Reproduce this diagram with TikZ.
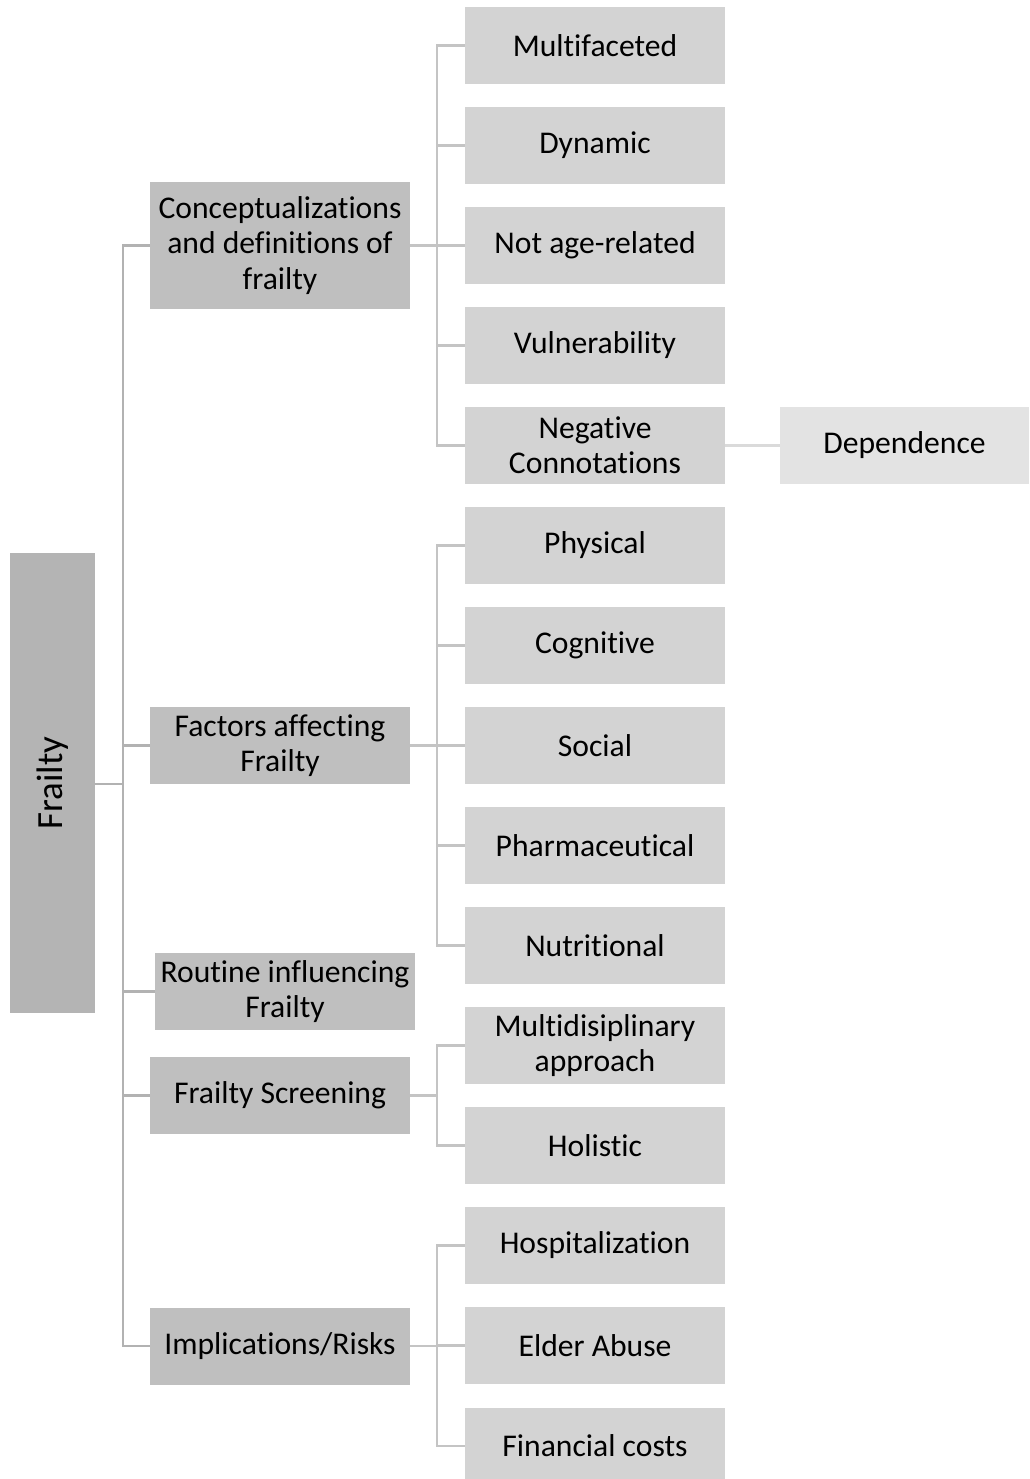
\documentclass[tikz,border=0pt]{standalone}
\usepackage{fontspec}
\setmainfont[Ligatures={NoCommon,NoContextual},Contextuals=NoAlternate]{Carlito}
\usetikzlibrary{positioning}

\definecolor{rootgray}{RGB}{180,180,180}
\definecolor{midgray}{RGB}{191,191,191}
\definecolor{leafgray}{RGB}{211,211,211}
\definecolor{lightgray2}{RGB}{227,227,227}
\definecolor{trunkline}{RGB}{178,178,178}
\definecolor{leafline}{RGB}{196,196,196}
\definecolor{depline}{RGB}{218,218,218}

\tikzset{
	rootbox/.style={fill=rootgray, inner sep=0pt, minimum width=1.7cm, minimum height=9.2cm},
	midbox/.style={fill=midgray, inner sep=0pt, minimum width=5.2cm, minimum height=1.54cm, align=center, font=\fontsize{18}{20}\selectfont},
	leafbox/.style={fill=leafgray, inner sep=0pt, minimum width=5.2cm, minimum height=1.54cm, align=center, font=\fontsize{18}{20}\selectfont},
	depbox/.style={fill=lightgray2, inner sep=0pt, minimum width=4.98cm, minimum height=1.54cm, align=center, font=\fontsize{18}{20}\selectfont},
	trunk/.style={draw=trunkline, line width=1.4pt},
	twig/.style={draw=leafline, line width=1.4pt},
}

\begin{document}
\begin{tikzpicture}[x=0.02cm,y=-0.02cm]

	\useasboundingbox (0,0) rectangle (1029,1479);

	\node[rootbox] (root) at (52.5,783) {};
	\node[rotate=90, font=\fontsize{21}{24}\selectfont] (rootlbl) at (root.center) {Frailty};

	\node[midbox, minimum height=2.54cm] (concept) at (280,245.5) {Conceptualizations\\and definitions of\\frailty};
	\node[midbox] (factors) at (280,745.5) {Factors affecting\\Frailty};
	\node[midbox] (routine) at (285,991.5) {Routine influencing\\Frailty};
	\node[midbox] (screening) at (280,1095.5) {Frailty Screening};
	\node[midbox] (risks) at (280,1346) {Implications/Risks};

	\node[leafbox] (multi) at (595,45.5) {Multifaceted};
	\node[leafbox] (dynamic) at (595,145.5) {Dynamic};
	\node[leafbox] (notage) at (595,245.5) {Not age-related};
	\node[leafbox] (vulner) at (595,345.5) {Vulnerability};
	\node[leafbox] (negconn) at (595,445.5) {Negative\\Connotations};
	\node[depbox] (depend) at (904.5,445.5) {Dependence};

	\node[leafbox] (physical) at (595,545.5) {Physical};
	\node[leafbox] (cognitive) at (595,645.5) {Cognitive};
	\node[leafbox] (social) at (595,745.5) {Social};
	\node[leafbox] (pharma) at (595,845.5) {Pharmaceutical};
	\node[leafbox] (nutrit) at (595,945.5) {Nutritional};

	\node[leafbox] (multidis) at (595,1045.5) {Multidisiplinary\\approach};
	\node[leafbox] (holistic) at (595,1145.5) {Holistic};

	\node[leafbox] (hospital) at (595,1245.5) {Hospitalization};
	\node[leafbox] (abuse) at (595,1345.5) {Elder Abuse};
	\node[leafbox] (costs) at (595,1446) {Financial costs};

	\coordinate (tbus) at (123,784);
	\coordinate (cbus) at (437,245.5);
	\coordinate (fbus) at (437,745.5);
	\coordinate (sbus) at (437,1095.5);
	\coordinate (rbus) at (437,1346);

	\draw[trunk] (root.east |- tbus) -- (tbus);
	\draw[trunk] (tbus) |- (concept.west);
	\draw[trunk] (tbus) |- (factors.west);
	\draw[trunk] (tbus) |- (routine.west);
	\draw[trunk] (tbus) |- (screening.west);
	\draw[trunk] (tbus) |- (risks.west);

	\draw[twig] (concept.east) -- (cbus);
	\draw[twig] (cbus) |- (multi.west);
	\draw[twig] (cbus) |- (dynamic.west);
	\draw[twig] (cbus) |- (notage.west);
	\draw[twig] (cbus) |- (vulner.west);
	\draw[twig] (cbus) |- (negconn.west);
	\draw[draw=depline, line width=1.4pt] (negconn.east) -- (depend.west);

	\draw[twig] (factors.east) -- (fbus);
	\draw[twig] (fbus) |- (physical.west);
	\draw[twig] (fbus) |- (cognitive.west);
	\draw[twig] (fbus) |- (social.west);
	\draw[twig] (fbus) |- (pharma.west);
	\draw[twig] (fbus) |- (nutrit.west);

	\draw[twig] (screening.east) -- (sbus);
	\draw[twig] (sbus) |- (multidis.west);
	\draw[twig] (sbus) |- (holistic.west);

	\draw[twig] (risks.east) -- (rbus);
	\draw[twig] (rbus) |- (hospital.west);
	\draw[twig] (rbus) |- (abuse.west);
	\draw[twig] (rbus) |- (costs.west);

\end{tikzpicture}
\end{document}
